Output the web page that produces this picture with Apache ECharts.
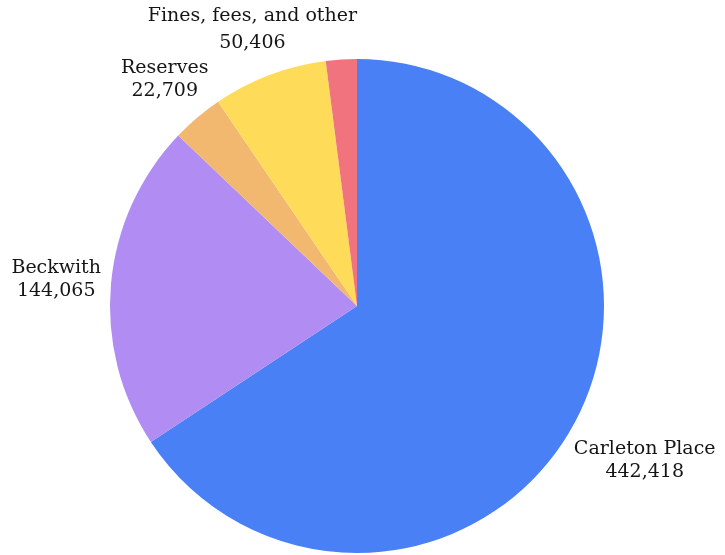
<!DOCTYPE html>
<html><head><meta charset="utf-8">
<script src="https://cdn.jsdelivr.net/npm/echarts@6/dist/echarts.min.js"></script>
<style>html,body{margin:0;padding:0;background:#fff}#c{width:725px;height:555px}</style>
</head><body><div id="c"></div>
<script>
const categories = ['Carleton Place', 'Beckwith', 'Reserves', 'Fines, fees, and other', 'Other'];
const values = [442418, 144065, 22709, 50406, 13600];
const colors = ['#4a80f5', '#b08cf3', '#f2b870', '#fedc5a', '#f0737d'];
const showLabel = [true, true, true, true, false];

const FONT_SIZE = 19;
const BASE_LH = 23;
const LABEL_GAP = 9;
const chart = echarts.init(document.getElementById('c'), null, { renderer: 'canvas' });

function placeLabel(params) {
  let lay, lh = BASE_LH;
  try {
    const data = chart.getModel().getSeriesByIndex(0).getData();
    lay = data.getItemLayout(params.dataIndex);
    lh = data.getItemModel(params.dataIndex).get(['label', 'lineHeight']) || BASE_LH;
  } catch (e) { return {}; }
  if (!lay) return {};
  const mid = (lay.startAngle + lay.endAngle) / 2;
  const dx = Math.cos(mid), dy = Math.sin(mid);
  const lead = (lh - 1.164 * FONT_SIZE) / 2;
  const trimTop = lead + 0.2 * FONT_SIZE;
  const trimBottom = lead + 0.236 * FONT_SIZE;
  const hw = params.labelRect.width / 2;
  const H = params.labelRect.height;
  const gh = H - trimTop - trimBottom;
  const shift = (trimTop - trimBottom) / 2;
  const target = lay.r + LABEL_GAP;
  let d = lay.r;
  for (; d < lay.r + 400; d += 0.25) {
    const x = d * dx, y = d * dy + shift;
    const qx = Math.max(x - hw, Math.min(0, x + hw));
    const qy = Math.max(y - gh / 2, Math.min(0, y + gh / 2));
    if (Math.hypot(qx, qy) >= target) break;
  }
  return { x: lay.cx + d * dx, y: lay.cy + d * dy, align: 'center', verticalAlign: 'middle' };
}

const seriesData = categories.map((name, i) => ({
  name: name,
  value: values[i],
  itemStyle: { color: colors[i] },
  label: { show: showLabel[i] }
}));
seriesData[3].label.lineHeight = 27;

chart.setOption({
  animation: false,
  series: [{
    type: 'pie',
    center: [357, 306],
    radius: 247,
    startAngle: 90,
    clockwise: true,
    avoidLabelOverlap: false,
    data: seriesData,
    label: {
      show: true,
      position: 'outside',
      formatter: p => p.name + '\n' + p.value.toLocaleString('en-US'),
      fontFamily: 'DejaVu Serif',
      fontSize: FONT_SIZE,
      lineHeight: BASE_LH,
      color: '#151515',
      align: 'center'
    },
    labelLine: { show: false },
    labelLayout: placeLabel,
    emphasis: { scale: false }
  }]
});
</script>
</body></html>
